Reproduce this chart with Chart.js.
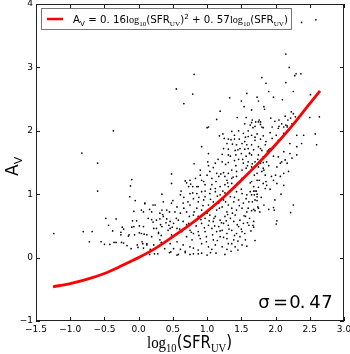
<!DOCTYPE html>
<html>
<head>
<meta charset="utf-8">
<script src="https://cdn.jsdelivr.net/npm/chart.js@4.4.0/dist/chart.umd.min.js"></script>
<style>
  html, body { margin: 0; padding: 0; background: #fff; }
</style>
</head>
<body>
<canvas id="avChart" width="350" height="354"></canvas>
<script>
var xTicks = [-1.5, -1.0, -0.5, 0.0, 0.5, 1.0, 1.5, 2.0, 2.5, 3.0];
var yTicks = [-1, 0, 1, 2, 3, 4];

// log10(SFR_UV), A_V for each galaxy
var galaxies = [
  [-0.37,2.00],[-0.83,1.65],[-0.60,1.49],[-0.60,1.05],[-0.10,1.23],[-0.12,1.13],[-0.13,0.96],[-0.05,0.90],
  [-0.07,0.73],[-0.48,0.62],[-0.33,0.61],[-0.09,0.58],[-0.03,0.58],[-0.44,0.51],[-0.38,0.42],[-0.24,0.48],
  [-0.22,0.45],[-0.10,0.48],[-0.07,0.49],[0.01,0.50],[-0.26,0.40],[-0.26,0.36],[-0.14,0.36],[-0.06,0.36],
  [-1.24,0.38],[-0.81,0.41],[-0.68,0.41],[-0.72,0.25],[-0.55,0.25],[-0.50,0.21],[-0.42,0.21],[-0.36,0.24],
  [-0.33,0.24],[-0.25,0.24],[-0.22,0.23],[-0.17,0.19],[-0.11,0.14],[-0.02,0.20],[-0.15,0.34],[-0.01,0.16],
  [0.07,0.72],[0.09,0.85],[0.16,0.76],[0.21,0.83],[0.05,0.25],[0.06,0.22],[0.12,0.20],[0.23,0.06],[0.16,0.05],
  [0.19,0.60],[0.21,0.56],[0.26,0.46],[0.29,0.40],[0.31,0.61],[0.32,0.52],[0.34,0.75],[0.35,0.68],[0.33,0.24],
  [0.33,0.35],[0.41,0.61],[0.44,0.51],[0.46,0.46],[0.49,0.48],[0.51,0.14],[0.45,0.08],[0.01,0.39],[0.08,0.37],
  [0.81,1.48],[0.48,1.32],[0.68,1.21],[0.75,1.22],[0.48,1.17],[0.76,1.16],[0.73,1.12],[0.79,1.12],
  [2.38,3.71],[2.59,3.75],[2.15,3.21],[2.20,3.00],[2.30,2.90],[2.37,2.90],[2.28,2.87],[1.80,2.84],[1.86,2.75],
  [2.15,2.76],[0.81,2.89],[0.55,2.66],[0.79,2.58],[0.66,2.43],[1.33,2.52],[1.58,2.59],[1.90,2.62],[2.26,2.62],
  [2.51,2.57],[1.50,2.47],[1.73,2.53],[1.75,2.47],[1.97,2.53],[2.10,2.49],[1.19,2.31],[1.54,2.38],[1.83,2.38],
  [1.84,2.34],[1.65,2.33],[1.14,2.18],[1.44,2.21],[1.57,2.21],[1.02,2.06],[1.65,2.13],[1.71,2.14],[1.76,2.17],
  [1.78,2.14],[2.50,2.21],[2.64,2.22],[1.55,2.11],[1.70,2.07],[1.78,2.10],[1.82,2.05],[1.67,2.05],[1.93,2.20],
  [1.99,2.15],[2.05,2.17],[2.14,2.23],[2.23,2.30],[2.26,2.27],[2.22,2.20],[2.18,2.17],[2.15,2.09],[2.24,2.11],
  [2.29,2.22],[2.05,2.07],[2.12,2.06],[2.17,2.08],[1.00,2.05],[1.63,2.09],[1.66,2.17],[1.75,2.14],[1.80,2.06],
  [1.95,2.06],[2.04,2.04],[2.09,2.11],[2.17,2.06],[0.92,1.75],[1.02,1.64],
  [1.18,1.92],[1.23,1.95],[1.36,1.99],[1.40,1.93],[1.46,2.00],[1.53,1.96],[1.60,2.00],[1.25,1.88],[1.31,1.87],
  [1.35,1.86],[1.40,1.87],[1.47,1.87],[1.56,1.90],[1.60,1.91],[1.29,1.80],[1.37,1.79],[1.43,1.78],[1.51,1.80],
  [1.58,1.78],[1.24,1.72],[1.31,1.71],[1.41,1.69],[1.48,1.72],[1.55,1.71],[1.60,1.72],[1.22,1.63],[1.31,1.62],
  [1.42,1.62],[1.50,1.64],[1.57,1.60],[1.62,1.64],[1.01,1.51],[1.12,1.49],[1.22,1.51],[1.31,1.50],[1.40,1.53],
  [1.46,1.55],[1.53,1.49],[1.60,1.51],[0.90,1.38],[1.04,1.36],[1.14,1.33],[1.24,1.34],[1.31,1.33],[1.36,1.38],
  [1.43,1.36],[1.51,1.38],[1.57,1.41],[0.92,1.22],[1.07,1.25],[1.17,1.28],[1.26,1.28],[1.29,1.22],[1.36,1.25],
  [1.43,1.28],[1.51,1.25],[0.87,1.12],[0.97,1.15],[1.07,1.15],[1.12,1.09],[1.19,1.12],[1.26,1.15],[1.31,1.12],
  [1.36,1.17],[1.41,1.11],
  [1.65,1.93],[1.73,1.95],[1.82,1.92],[1.92,1.97],[2.01,1.93],[2.12,1.96],[2.31,1.93],[2.41,1.93],[2.58,1.95],
  [1.70,1.85],[1.78,1.87],[1.86,1.83],[1.95,1.88],[2.04,1.85],[2.38,1.80],[2.21,1.80],[1.65,1.78],[1.75,1.75],
  [1.85,1.78],[1.92,1.72],[1.99,1.78],[2.31,1.75],[2.60,1.78],[1.68,1.70],[1.80,1.69],[1.90,1.70],[2.12,1.67],
  [2.21,1.64],[2.31,1.62],[1.65,1.62],[1.75,1.62],[1.82,1.59],[2.04,1.59],[2.14,1.54],[2.24,1.57],[1.70,1.51],
  [1.78,1.49],[1.87,1.51],[2.07,1.49],[2.09,1.51],[2.17,1.49],[1.65,1.43],[1.75,1.43],[1.82,1.41],[2.02,1.43],
  [2.19,1.36],[2.12,1.33],[1.73,1.33],[1.80,1.36],[1.85,1.30],[2.00,1.30],[2.07,1.28],[1.97,1.22],[1.65,1.20],
  [1.73,1.22],[1.82,1.17],[1.87,1.14],[2.02,1.17],[2.12,1.14],[1.68,1.12],[1.75,1.11],[1.85,1.09],[1.92,1.08],
  [0.34,1.00],[0.61,0.99],[0.75,1.01],[0.80,0.93],[0.09,0.86],[0.24,0.83],[0.36,0.88],[0.48,0.86],[0.65,0.86],
  [0.75,0.83],[0.04,0.75],[0.19,0.72],[0.31,0.70],[0.41,0.75],[0.53,0.72],[0.61,0.70],[0.70,0.72],[0.80,0.67],
  [0.14,0.62],[0.26,0.59],[0.36,0.65],[0.46,0.57],[0.51,0.54],[0.58,0.59],[0.65,0.57],[0.73,0.54],[0.07,0.49],
  [0.22,0.46],[0.34,0.49],[0.43,0.43],[0.56,0.46],[0.63,0.41],[0.75,0.43],[0.80,0.38],[0.04,0.38],[0.12,0.36],
  [0.19,0.33],[0.29,0.38],[0.48,0.36],[0.70,0.33],[0.78,0.28],[0.12,0.22],[0.22,0.20],[0.31,0.28],[0.46,0.22],
  [0.56,0.25],[0.65,0.20],[0.75,0.17],[0.07,0.15],[0.17,0.13],[0.61,0.13],[0.80,0.15],
  [0.85,1.01],[0.92,1.04],[0.97,0.96],[1.04,1.01],[1.12,1.04],[1.19,0.99],[1.26,1.02],[1.34,0.96],[1.43,1.04],
  [1.51,1.01],[1.58,0.99],[1.63,1.04],[0.87,0.88],[0.95,0.91],[1.02,0.83],[1.09,0.88],[1.17,0.86],[1.24,0.91],
  [1.31,0.83],[1.39,0.88],[1.46,0.91],[1.53,0.86],[1.61,0.88],[0.85,0.78],[0.92,0.75],[0.99,0.72],[1.07,0.78],
  [1.14,0.75],[1.22,0.80],[1.29,0.72],[1.36,0.78],[1.43,0.75],[1.51,0.78],[1.58,0.72],[0.87,0.65],[0.97,0.62],
  [1.04,0.67],[1.12,0.65],[1.19,0.59],[1.26,0.65],[1.34,0.62],[1.41,0.67],[1.48,0.59],[1.56,0.65],[1.62,0.62],
  [0.92,0.54],[1.02,0.51],[1.09,0.57],[1.17,0.49],[1.24,0.54],[1.31,0.51],[1.39,0.57],[1.46,0.49],[1.53,0.54],
  [1.61,0.51],[0.87,0.41],[0.97,0.41],[1.07,0.46],[1.14,0.41],[1.22,0.43],[1.29,0.38],[1.36,0.43],[1.43,0.38],
  [1.51,0.41],[0.90,0.30],[0.99,0.33],[1.09,0.28],[1.19,0.33],[1.29,0.30],[1.39,0.28],[1.48,0.33],[1.56,0.28],
  [0.92,0.22],[1.02,0.17],[1.12,0.20],[1.22,0.17],[1.31,0.22],[1.41,0.17],[1.51,0.20],[0.87,0.12],[1.07,0.13],
  [1.29,0.13],
  [1.65,0.99],[1.69,0.99],[1.73,1.00],[1.68,1.05],[1.70,1.05],[2.08,1.00],[1.73,0.96],[1.70,0.91],[1.73,0.90],
  [1.99,0.91],[1.83,0.83],[2.26,0.83],[1.74,0.80],[1.75,0.78],[1.68,0.76],[1.65,0.74],[1.70,0.74],[1.77,0.72],
  [1.90,0.76],[1.97,0.79],[1.98,0.75],[2.22,0.71],[1.68,0.57],[2.02,0.58],[2.01,0.53],[1.67,0.51],[1.68,0.48],
  [1.70,0.27],
  [0.88,0.95],[0.94,0.82],[1.00,0.70],[1.05,0.92],[1.10,0.62],[1.15,0.97],[1.18,0.78],[1.21,0.55],[1.27,0.88],
  [1.30,0.68],[1.33,1.05],[1.37,0.70],[1.40,0.95],[1.44,0.52],[1.47,0.82],[1.50,1.08],[1.54,0.66],[1.57,0.93],
  [1.60,0.78],[1.63,1.18],[1.66,0.88],[1.69,1.30],[1.72,1.05],[1.76,1.22],[1.79,0.95],[1.83,1.38],[1.86,1.20],
  [1.90,1.45],[1.94,1.28],[1.97,1.60],[0.95,1.20],[1.00,1.30],[1.05,1.08],[1.09,1.42],[1.13,1.20],[1.16,1.55],
  [1.20,1.32],[1.23,1.05],[1.27,1.47],[1.30,1.18],[1.34,1.60],[1.38,1.27],[1.42,1.45],[1.45,1.70],[1.49,1.22],
  [1.52,1.55],[1.55,1.83],[1.59,1.45],[1.62,1.65],[1.66,1.48],[1.70,1.90],[1.74,1.55],[1.78,1.72],[1.82,1.50],
  [1.88,1.68],[0.55,0.62],[0.60,0.45],[0.66,0.78],[0.70,0.52],[0.74,0.65],[0.77,0.40],[0.81,0.72],[0.84,0.50],
  [0.88,0.35],[0.91,0.60],[0.96,0.47],[0.99,0.25],[1.03,0.58],[1.08,0.36],[1.11,0.50],[1.15,0.27],[1.19,0.42],
  [1.24,0.32],[1.28,0.58],[1.32,0.45],[1.36,0.22],[1.40,0.35],[1.45,0.26],[1.50,0.45],[1.55,0.38],[1.59,0.55],
  [1.64,0.42],[1.35,0.10],[1.05,0.08],[0.92,0.07],[0.80,0.06],[0.68,0.08],[0.58,0.05],[0.47,0.09],[0.38,0.14],
  [0.28,0.06],[0.40,0.55],[0.45,0.72],[0.50,0.90],[0.56,0.80],[0.62,1.05],[0.66,0.95],[0.72,0.88],[0.79,1.02],
  [0.85,1.12],[0.90,1.30],[0.97,1.05],[1.02,1.45],[0.83,1.25],[0.70,1.18],
  [0.56,0.04],[0.68,0.10],[0.75,0.05],[0.87,0.06],[1.00,0.04],[1.13,0.07],[1.26,0.05],[1.45,0.12],[1.58,0.18]
];

// fitted relation A_V = 0.16 x^2 + 0.57 x
var fitX = [-1.25, -1.0, -0.75, -0.5, -0.25, 0.0, 0.25, 0.5, 0.75, 1.0, 1.25, 1.5, 1.75, 2.0, 2.25, 2.5, 2.65];
var fitY = [-0.46, -0.41, -0.34, -0.25, -0.13, 0.0, 0.15, 0.33, 0.52, 0.73, 0.96, 1.22, 1.49, 1.78, 2.09, 2.43, 2.63];

var sigmaText = ['σ', '=', '0', '.', '4', '7'];

var SANS = '"DejaVu Sans", sans-serif';
var SERIF = '"Liberation Serif", "DejaVu Serif", serif';

function minus(v) { return String(v).replace('-', '\u2212'); }

// text made of pieces with different fonts / offsets, squeezed to a given width
function drawRich(ctx, parts, x, y, width) {
  var total = 0;
  parts.forEach(function (p) { ctx.font = p[1]; total += ctx.measureText(p[0]).width; });
  var k = width ? width / total : 1;
  ctx.save();
  ctx.translate(x, y);
  ctx.scale(k, 1);
  ctx.textAlign = 'left';
  ctx.textBaseline = 'alphabetic';
  var cx = 0;
  parts.forEach(function (p) {
    ctx.font = p[1];
    ctx.fillText(p[0], cx, p[2] || 0);
    cx += ctx.measureText(p[0]).width;
  });
  ctx.restore();
}

var decor = {
  id: 'decor',
  afterDatasetsDraw: function (chart) {
    var ctx = chart.ctx, a = chart.chartArea;
    var sx = chart.scales.x, sy = chart.scales.y;
    ctx.save();
    ctx.strokeStyle = '#111';
    ctx.lineWidth = 1;
    ctx.beginPath();
    xTicks.forEach(function (v) {
      var px = Math.round(sx.getPixelForValue(v)) + 0.5;
      ctx.moveTo(px, a.bottom); ctx.lineTo(px, a.bottom - 4);
      ctx.moveTo(px, a.top); ctx.lineTo(px, a.top + 4);
    });
    yTicks.forEach(function (v) {
      var py = Math.round(sy.getPixelForValue(v)) + 0.5;
      ctx.moveTo(a.left, py); ctx.lineTo(a.left + 4, py);
      ctx.moveTo(a.right, py); ctx.lineTo(a.right - 4, py);
    });
    ctx.stroke();
    ctx.strokeStyle = '#222';
    ctx.strokeRect(a.left + 0.5, a.top + 0.5, a.right - a.left - 1, a.bottom - a.top - 1);
    ctx.restore();
  },
  afterDraw: function (chart) {
    var ctx = chart.ctx;
    ctx.save();

    // legend box
    ctx.fillStyle = '#fff';
    ctx.fillRect(41, 8, 250, 21);
    ctx.strokeStyle = '#777';
    ctx.lineWidth = 1;
    ctx.strokeRect(41.5, 8.5, 250, 21);
    ctx.strokeStyle = '#ff0000';
    ctx.lineWidth = 2.5;
    ctx.beginPath(); ctx.moveTo(47, 19); ctx.lineTo(63, 19); ctx.stroke();
    ctx.fillStyle = '#000';
    var m = '10px ' + SANS, ms = '7px ' + SANS, lg = '10px ' + SERIF, ls = '7px ' + SERIF;
    drawRich(ctx, [
      ['A', m], ['V', ms, 2.5], [' = 0. 16', m], ['log', lg], ['10', ls, 2.5], ['(SFR', m], ['UV', ls, 2.5], [')', m],
      ['2', ms, -4], [' + 0. 57', m], ['log', lg], ['10', ls, 2.5], ['(SFR', m], ['UV', ls, 2.5], [')', m]
    ], 73, 23, 215);

    // x axis title
    drawRich(ctx, [
      ['log', '17px ' + SERIF], ['10', '12px ' + SERIF, 4], ['(SFR', '17px ' + SANS], ['UV', '12px ' + SERIF, 4], [')', '17px ' + SANS]
    ], 147, 348, 85);

    // y axis title
    ctx.save();
    ctx.translate(18, 176);
    ctx.rotate(-Math.PI / 2);
    drawRich(ctx, [['A', '17px ' + SANS], ['V', '11px ' + SANS, 3.5]], 0, 0);
    ctx.restore();

    // scatter of the fit
    ctx.font = '18px ' + SANS;
    ctx.textAlign = 'center';
    ctx.textBaseline = 'alphabetic';
    var sigX = [264, 280.5, 295, 302.5, 315, 327];
    sigmaText.forEach(function (s, i) { ctx.fillText(s, sigX[i], 308); });
    ctx.restore();
  }
};

new Chart(document.getElementById('avChart'), {
  type: 'scatter',
  data: {
    datasets: [
      {
        label: 'fit',
        data: fitX.map(function (x, i) { return { x: x, y: fitY[i] }; }),
        showLine: true,
        borderColor: '#ff0000',
        borderWidth: 2.8,
        pointRadius: 0,
        cubicInterpolationMode: 'monotone',
        order: 0
      },
      {
        label: 'galaxies',
        data: galaxies.map(function (p) { return { x: p[0], y: p[1] }; }),
        backgroundColor: '#000',
        borderWidth: 0,
        pointRadius: 0.85,
        order: 1
      }
    ]
  },
  options: {
    responsive: false,
    animation: false,
    devicePixelRatio: 1,
    layout: { padding: { top: 4, right: 6, left: 0, bottom: 0 } },
    plugins: { legend: { display: false }, tooltip: { enabled: false } },
    scales: {
      x: {
        type: 'linear', min: -1.5, max: 3.0,
        grid: { display: false, drawTicks: false },
        border: { display: false },
        ticks: {
          stepSize: 0.5, padding: 3, color: '#000',
          font: { family: SANS, size: 9 },
          callback: function (v) { return minus(Number(v).toFixed(1)); }
        },
        afterFit: function (s) { s.height = 33; s.paddingLeft = 0; s.paddingRight = 0; }
      },
      y: {
        type: 'linear', min: -1, max: 4,
        grid: { display: false, drawTicks: false },
        border: { display: false },
        ticks: {
          stepSize: 1, padding: 3, color: '#000',
          font: { family: SANS, size: 9 },
          callback: function (v) { return minus(v); }
        },
        afterFit: function (s) { s.width = 36; s.paddingTop = 0; s.paddingBottom = 0; }
      }
    }
  },
  plugins: [decor]
});
</script>
</body>
</html>
